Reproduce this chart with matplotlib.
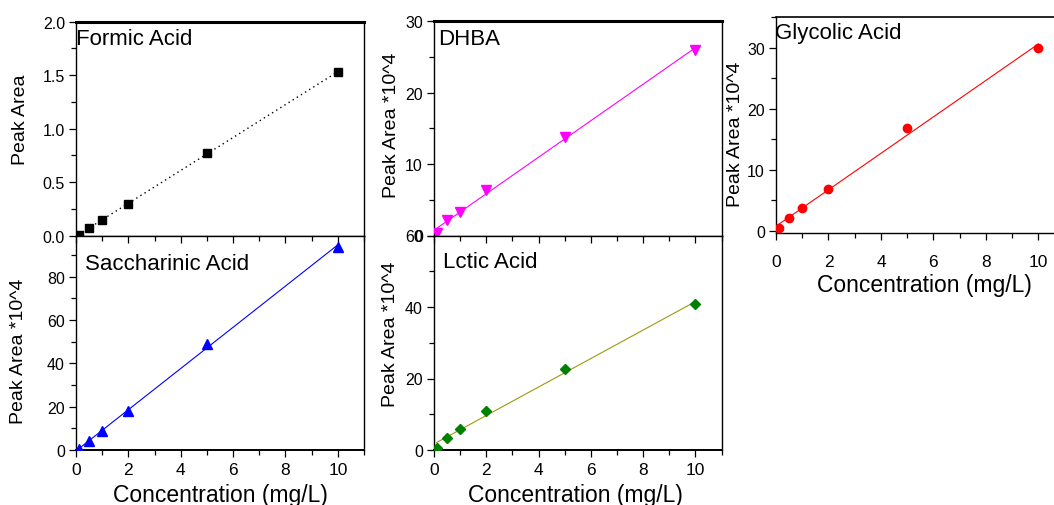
import numpy as np
import matplotlib
matplotlib.use("Agg")
import matplotlib.pyplot as plt
from matplotlib.ticker import MultipleLocator, FormatStrFormatter
from matplotlib.lines import TICKDOWN

plt.rcParams['font.family'] = ['Liberation Sans', 'DejaVu Sans']

# Calibration standards (mg/L)
conc = [0.1, 0.5, 1, 2, 5, 10]

# Peak areas for each acid
formic = [0.01, 0.07, 0.15, 0.30, 0.77, 1.53]
saccharinic = [0.5, 4.0, 9.0, 18.0, 49.0, 94.0]
dhba = [0.3, 2.1, 3.3, 6.4, 13.8, 26.0]
lactic = [0.6, 3.3, 5.9, 11.0, 22.7, 40.7]
glycolic = [0.4, 2.1, 3.8, 6.8, 16.9, 30.0]

W, H = 1054, 506
fig = plt.figure(figsize=(W / 100, H / 100), dpi=100)


def px_axes(left, top, right, bottom):
    return fig.add_axes([left / W, 1 - bottom / H, (right - left) / W, (bottom - top) / H])


def style(ax, ymajor, yminor, show_x, top_lw=1.0, bottom_lw=1.0):
    ax.set_xlim(0, 11)
    ax.xaxis.set_major_locator(MultipleLocator(2))
    ax.xaxis.set_minor_locator(MultipleLocator(1))
    ax.yaxis.set_major_locator(MultipleLocator(ymajor))
    ax.yaxis.set_minor_locator(MultipleLocator(yminor))
    for s in ax.spines.values():
        s.set_linewidth(1.0)
    ax.spines['top'].set_linewidth(top_lw)
    ax.spines['bottom'].set_linewidth(bottom_lw)
    ax.tick_params(axis='y', which='both', direction='out', left=True, right=False,
                   labelsize=11.5, pad=3, width=0.9)
    ax.tick_params(axis='y', which='major', length=5)
    ax.tick_params(axis='y', which='minor', length=3.5)
    ax.tick_params(axis='x', which='both', direction='out', bottom=show_x,
                   labelbottom=show_x, top=False, labelsize=12.5, pad=3.5, width=0.9)
    ax.tick_params(axis='x', which='major', length=5)
    ax.tick_params(axis='x', which='minor', length=3.5)


def fit_line(ax, y, color, ls='-', lw=0.8):
    k, b = np.polyfit(conc, y, 1)
    xs = np.array([conc[0], conc[-1]])
    ax.plot(xs, k * xs + b, color=color, ls=ls, lw=lw, zorder=2)


def ylab(ax, text, x, y):
    ax.set_ylabel(text, fontsize=14)
    ax.yaxis.label.set_va('center')
    ax.yaxis.set_label_coords(x, y)


def xlab(ax, x, y):
    ax.set_xlabel('Concentration (mg/L)', fontsize=16.5)
    ax.xaxis.label.set_va('center')
    ax.xaxis.set_label_coords(x, y)


def title(ax, text, x, y):
    ax.text(x, y, text, transform=ax.transAxes, fontsize=16, ha='left', va='center')


# Formic acid
ax1 = px_axes(76, 22.7, 364, 236.7)
style(ax1, 0.5, 0.25, False, top_lw=2.2)
ax1.set_ylim(0, 2.0)
ax1.yaxis.set_major_formatter(FormatStrFormatter('%.1f'))
fit_line(ax1, formic, 'black', ls=(0, (1, 2.5)), lw=1.0)
ax1.plot(conc, formic, 's', color='black', ms=5.5, zorder=3)
ylab(ax1, 'Peak Area', -0.192, 0.545)
title(ax1, 'Formic Acid', 0.0, 0.92)

# Saccharinic acid
ax2 = px_axes(76, 236.7, 364, 451)
style(ax2, 20, 10, True, bottom_lw=1.4)
ax2.set_ylim(0, 99)
fit_line(ax2, saccharinic, '#0000ff')
ax2.plot(conc, saccharinic, '^', color='#0000ff', ms=7, zorder=3)
ylab(ax2, 'Peak Area *10^4', -0.200, 0.467)
xlab(ax2, 0.5, -0.208)
title(ax2, 'Saccharinic Acid', 0.03, 0.87)

# DHBA
ax3 = px_axes(434, 22, 721.5, 236.5)
style(ax3, 10, 5, False, top_lw=2.2)
ax3.set_ylim(0, 30)
fit_line(ax3, dhba, '#ff00ff')
ax3.plot(conc, dhba, 'v', color='#ff00ff', ms=7, zorder=3)
ylab(ax3, 'Peak Area *10^4', -0.147, 0.52)
title(ax3, 'DHBA', 0.015, 0.92)

# Lactic acid
ax4 = px_axes(434, 236.5, 721.5, 451)
style(ax4, 20, 10, True, bottom_lw=1.4)
ax4.set_ylim(0, 60)
fit_line(ax4, lactic, '#9a9a10')
ax4.plot(conc, lactic, 'D', color='#008000', ms=5.5, zorder=3)
ylab(ax4, 'Peak Area *10^4', -0.153, 0.545)
xlab(ax4, 0.493, -0.208)
title(ax4, 'Lctic Acid', 0.03, 0.88)

# Top-edge ticks of the lower panels point into the plot area
for ax in (ax2, ax4):
    ax.tick_params(axis='x', which='both', top=True, bottom=True)
    for t in ax.xaxis.get_major_ticks() + ax.xaxis.get_minor_ticks():
        t.tick2line.set_marker(TICKDOWN)

# Glycolic acid
ax5 = px_axes(776, 18.3, 1064.6, 234.3)
style(ax5, 10, 5, True, top_lw=1.2)
ax5.set_ylim(-0.43, 35)
ax5.tick_params(axis='x', which='major', pad=10)
fit_line(ax5, glycolic, '#ff0000')
ax5.plot(conc, glycolic, 'o', color='#ff0000', ms=6, zorder=3)
ylab(ax5, 'Peak Area *10^4', -0.142, 0.464)
xlab(ax5, 0.513, -0.235)
title(ax5, 'Glycolic Acid', -0.005, 0.93)

fig.savefig('out.png', dpi=100)
